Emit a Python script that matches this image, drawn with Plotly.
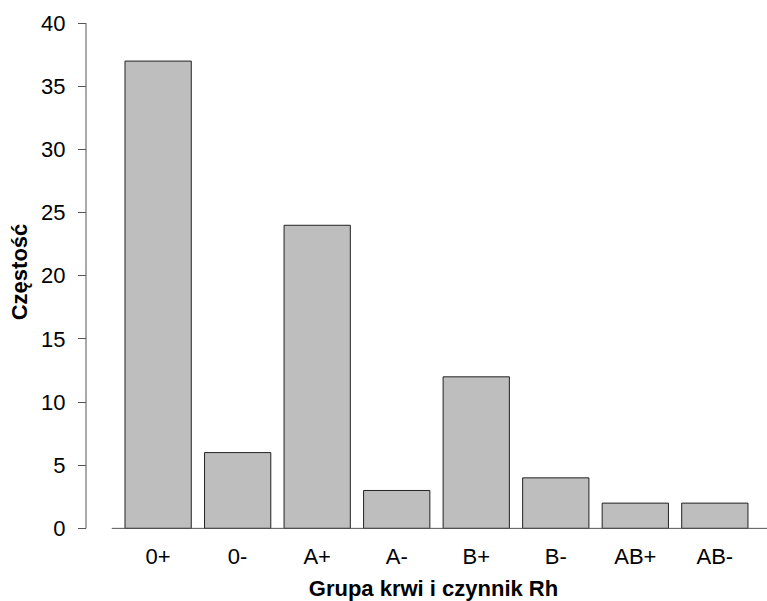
import plotly.graph_objects as go

categories = ["0+", "0-", "A+", "A-", "B+", "B-", "AB+", "AB-"]
counts = [37, 6, 24, 3, 12, 4, 2, 2]
y_ticks = [0, 5, 10, 15, 20, 25, 30, 35, 40]

# R barplot positions: width 1, space 0.2
xpos = [0.7 + 1.2 * i for i in range(len(categories))]

W, H = 767, 601
ml = 86
plot_w = W - ml
x_dom0 = 14 / plot_w

fig = go.Figure()
fig.add_trace(go.Bar(
    x=xpos, y=counts, width=1.0,
    marker=dict(color="#bebebe", line=dict(color="#222222", width=1)),
    hoverinfo="skip",
))

font_fam = "Liberation Sans, Arial, sans-serif"

fig.update_layout(
    width=W, height=H,
    margin=dict(l=ml, r=0, t=2.5, b=59.6),
    plot_bgcolor="white", paper_bgcolor="white",
    showlegend=False,
    font=dict(family=font_fam, size=22, color="black"),
    xaxis=dict(
        domain=[x_dom0, 1],
        range=[-0.177, 9.887],
        tickvals=xpos, ticktext=categories,
        ticks="", showline=False, showgrid=False, zeroline=False,
        tickfont=dict(size=22),
        ticklabelstandoff=0,
        title=dict(text="<b>Grupa krwi i czynnik Rh</b>", font=dict(size=22), standoff=12),
    ),
    yaxis=dict(
        range=[-1.0, 41.6],
        anchor="free", position=0,
        tickvals=y_ticks,
        ticks="outside", ticklen=8, tickcolor="#555555", tickwidth=1,
        showline=False, showgrid=False, zeroline=False,
        tickfont=dict(size=22),
        ticklabelstandoff=8,
        title=dict(text="<b>Częstość</b>", font=dict(size=22), standoff=6),
    ),
)

# y axis line from first to last tick (R style)
fig.add_shape(type="line", xref="paper", yref="y", x0=0, x1=0,
              y0=y_ticks[0], y1=y_ticks[-1], line=dict(color="#555555", width=1))
# baseline at zero
fig.add_shape(type="line", xref="x", yref="y", x0=0, x1=9.887,
              y0=0, y1=0, line=dict(color="#555555", width=1))

fig.write_html("out.html")
